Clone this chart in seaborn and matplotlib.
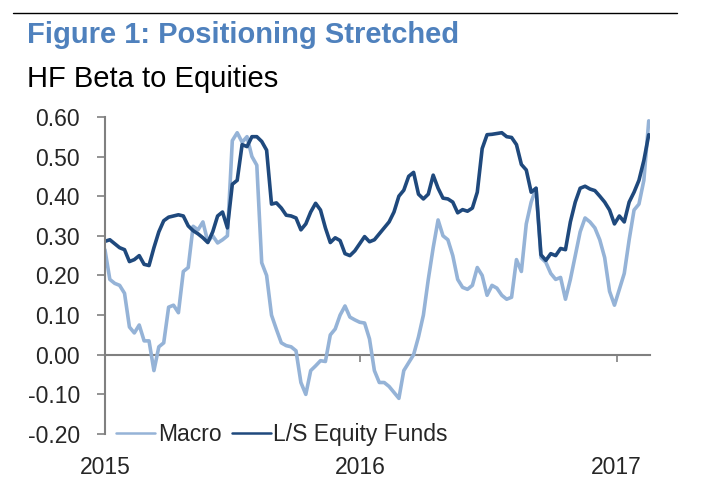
import pandas as pd
import matplotlib
matplotlib.use("Agg")
import matplotlib.pyplot as plt
import matplotlib.dates as mdates
import seaborn as sns

# weekly readings, starting 2015-01-01
start_date = "2015-01-01"
macro = [
    0.265, 0.19, 0.18, 0.175, 0.155, 0.07, 0.055, 0.075, 0.035, 0.035,
    -0.04, 0.02, 0.03, 0.12, 0.125, 0.106, 0.21, 0.22, 0.324, 0.315,
    0.335, 0.285, 0.30, 0.282, 0.29, 0.30, 0.54, 0.56, 0.536, 0.55,
    0.50, 0.478, 0.232, 0.20, 0.10, 0.064, 0.03, 0.023, 0.02, 0.01,
    -0.07, -0.10, -0.04, -0.028, -0.015, -0.017, 0.05, 0.065, 0.10, 0.123,
    0.095, 0.088, 0.082, 0.08, 0.04, -0.04, -0.07, -0.07, -0.08, -0.095,
    -0.11, -0.04, -0.02, 0.0, 0.045, 0.10, 0.19, 0.27, 0.34, 0.30,
    0.29, 0.25, 0.19, 0.17, 0.165, 0.175, 0.22, 0.20, 0.15, 0.175,
    0.168, 0.15, 0.14, 0.145, 0.24, 0.21, 0.33, 0.385, 0.42, 0.245,
    0.233, 0.205, 0.19, 0.195, 0.14, 0.19, 0.25, 0.31, 0.345, 0.335,
    0.32, 0.29, 0.245, 0.16, 0.125, 0.165, 0.205, 0.29, 0.365, 0.38,
    0.44, 0.59,
]
ls_equity = [
    0.286, 0.29, 0.28, 0.27, 0.265, 0.235, 0.24, 0.25, 0.228, 0.225,
    0.27, 0.31, 0.338, 0.347, 0.35, 0.353, 0.35, 0.325, 0.313, 0.305,
    0.295, 0.283, 0.31, 0.35, 0.36, 0.32, 0.43, 0.44, 0.53, 0.525,
    0.55, 0.55, 0.538, 0.516, 0.38, 0.383, 0.37, 0.352, 0.35, 0.345,
    0.315, 0.33, 0.36, 0.382, 0.365, 0.32, 0.283, 0.295, 0.288, 0.255,
    0.25, 0.262, 0.28, 0.298, 0.285, 0.29, 0.305, 0.32, 0.335, 0.36,
    0.40, 0.415, 0.45, 0.46, 0.405, 0.393, 0.405, 0.453, 0.42, 0.395,
    0.393, 0.385, 0.358, 0.366, 0.362, 0.37, 0.41, 0.52, 0.555, 0.556,
    0.558, 0.56, 0.55, 0.548, 0.53, 0.48, 0.466, 0.41, 0.42, 0.252,
    0.238, 0.255, 0.25, 0.268, 0.265, 0.335, 0.385, 0.42, 0.425, 0.418,
    0.414, 0.40, 0.385, 0.365, 0.33, 0.35, 0.335, 0.385, 0.41, 0.44,
    0.49, 0.555,
]
series_names = ["Macro", "L/S Equity Funds"]
year_labels = ["2015", "2016", "2017"]
y_ticks = [-0.2, -0.1, 0.0, 0.1, 0.2, 0.3, 0.4, 0.5, 0.6]

dates = pd.date_range(start_date, periods=len(macro), freq="7D")
df = pd.concat([
    pd.DataFrame({"date": dates, "beta": macro, "series": series_names[0]}),
    pd.DataFrame({"date": dates, "beta": ls_equity, "series": series_names[1]}),
])

sns.set_style("white")
plt.rcParams["font.family"] = ["Liberation Sans", "DejaVu Sans"]
fs = 16.5
title_fs = 21

fig = plt.figure(figsize=(7.09, 4.91), dpi=100)
ax = fig.add_axes([0.148, 0.116, 0.769, 0.646])

sns.lineplot(data=df, x="date", y="beta", hue="series", ax=ax,
             palette=["#95B3D7", "#1F497D"], linewidth=2.6)

ax.set_ylim(-0.2, 0.6)
ax.set_xlim(pd.Timestamp("2015-01-01"), pd.Timestamp("2017-02-18"))
ax.set_yticks(y_ticks)
ax.set_yticklabels([f"{v:.2f}" for v in y_ticks], fontsize=fs)
ax.set_xticks([pd.Timestamp(f"{y}-01-01") for y in year_labels])
ax.set_xticklabels(year_labels, fontsize=fs)
ax.set_xlabel("")
ax.set_ylabel("")

for s in ["top", "right", "bottom"]:
    ax.spines[s].set_visible(False)
ax.spines["left"].set_color("#808080")
ax.spines["left"].set_linewidth(1.5)
ax.tick_params(axis="y", length=6, width=1.2, color="#808080", pad=12, left=True)
ax.tick_params(axis="x", length=0, pad=16)

# zero line with the year ticks
zero = ax.secondary_xaxis(0.25)
zero.set_xticks([mdates.date2num(pd.Timestamp(f"{y}-01-01")) for y in year_labels[1:]])
zero.tick_params(length=5, width=1.2, color="#808080", labelbottom=False)
zero.spines["bottom"].set_color("#808080")
zero.spines["bottom"].set_linewidth(1.5)

leg = ax.legend(loc="lower left", bbox_to_anchor=(0.0, -0.075), ncol=2, frameon=False,
                fontsize=fs, handlelength=1.7, handletextpad=0.1, columnspacing=0.45,
                borderaxespad=0.1)
for line in leg.get_lines():
    line.set_linewidth(1.8)

fig.add_artist(plt.Line2D([0.018, 0.955], [0.973, 0.973], color="black", linewidth=1))
fig.text(0.038, 0.928, "Figure 1: Positioning Stretched", fontsize=title_fs,
         fontweight="bold", color="#4F81BD", va="center")
fig.text(0.038, 0.84, "HF Beta to Equities", fontsize=title_fs, color="black", va="center")

fig.savefig("out.png", dpi=100)
